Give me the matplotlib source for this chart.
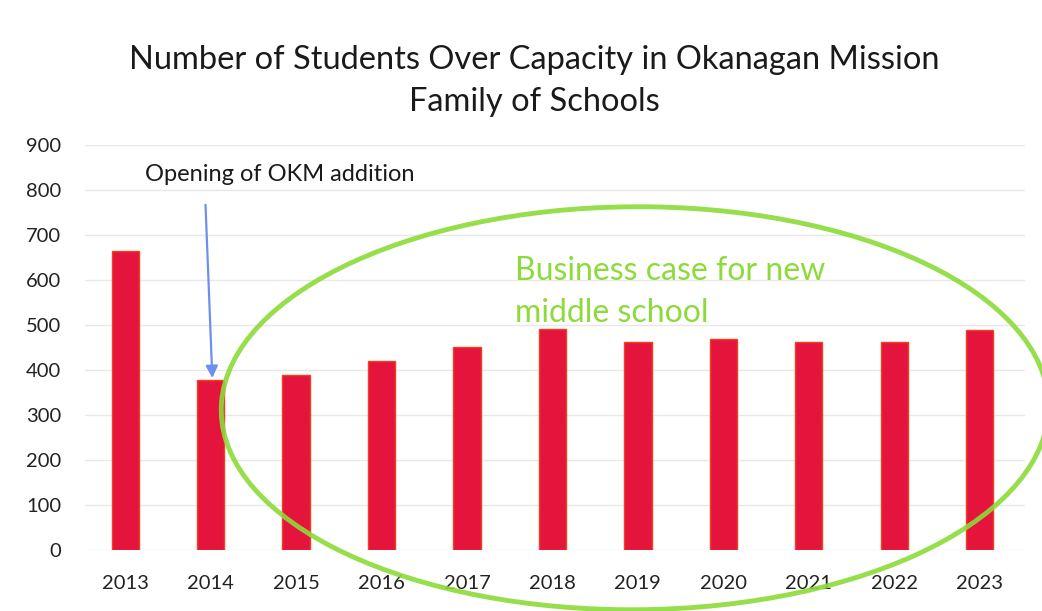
import matplotlib
matplotlib.use("Agg")
import matplotlib.pyplot as plt
from matplotlib.patches import Ellipse

plt.rcParams['font.family'] = ['Lato', 'DejaVu Sans']

years = ['2013', '2014', '2015', '2016', '2017', '2018', '2019', '2020', '2021', '2022', '2023']
over_capacity = [665, 378, 388, 420, 452, 492, 462, 468, 463, 462, 488]
y_ticks = [0, 100, 200, 300, 400, 500, 600, 700, 800, 900]

title = "Number of Students Over Capacity in Okanagan Mission\nFamily of Schools"
arrow_label = "Opening of OKM addition"
green_label = "Business case for new\nmiddle school"

fig = plt.figure(figsize=(10.42, 6.11), dpi=100)
fig.patch.set_facecolor('white')
ax = fig.add_axes([0.0816, 0.0998, 0.902, 0.663])

x = list(range(len(years)))
ax.bar(x, over_capacity, width=0.32, color='#E5143D', edgecolor='#F2401E', linewidth=1.0, zorder=3)

ax.set_ylim(0, 900)
ax.set_xlim(-0.47, 10.53)
ax.set_yticks(y_ticks)
ax.set_yticklabels([str(v) for v in y_ticks])
ax.set_xticks(x)
ax.set_xticklabels(years)
ax.tick_params(axis='both', length=0, labelsize=14.5, colors='#222222')
ax.tick_params(axis='y', pad=17)
ax.tick_params(axis='x', pad=18)
ax.grid(axis='y', color='#e8e8e8', linewidth=1.0, zorder=0)
for s in ax.spines.values():
    s.set_visible(False)

fig.text(0.513, 0.868, title, ha='center', va='center', fontsize=23.5, color='#1a1a1a', linespacing=1.5)

# label and arrow for 2014
ax.text(1.81, 835, arrow_label, fontsize=17, color='#1a1a1a', ha='center', va='center')
ax.annotate('', xy=(1.02, over_capacity[1] + 4), xytext=(0.94, 767),
            textcoords='data',
            arrowprops=dict(arrowstyle='-|>', color='#6F8FF0', lw=1.6, mutation_scale=18,
                            shrinkA=0, shrinkB=0))

ax.text(4.56, 573, green_label, fontsize=23, color='#8CDB3A', ha='left', va='center', linespacing=1.5)

ell = Ellipse((0.585, 0.35), width=0.88, height=0.995, angle=-2,
              transform=ax.transAxes, fill=False, edgecolor='#8CDB3A', linewidth=3.5,
              clip_on=False, zorder=4, alpha=0.9)
ax.add_patch(ell)

fig.savefig('out.png', dpi=100, facecolor='white')
